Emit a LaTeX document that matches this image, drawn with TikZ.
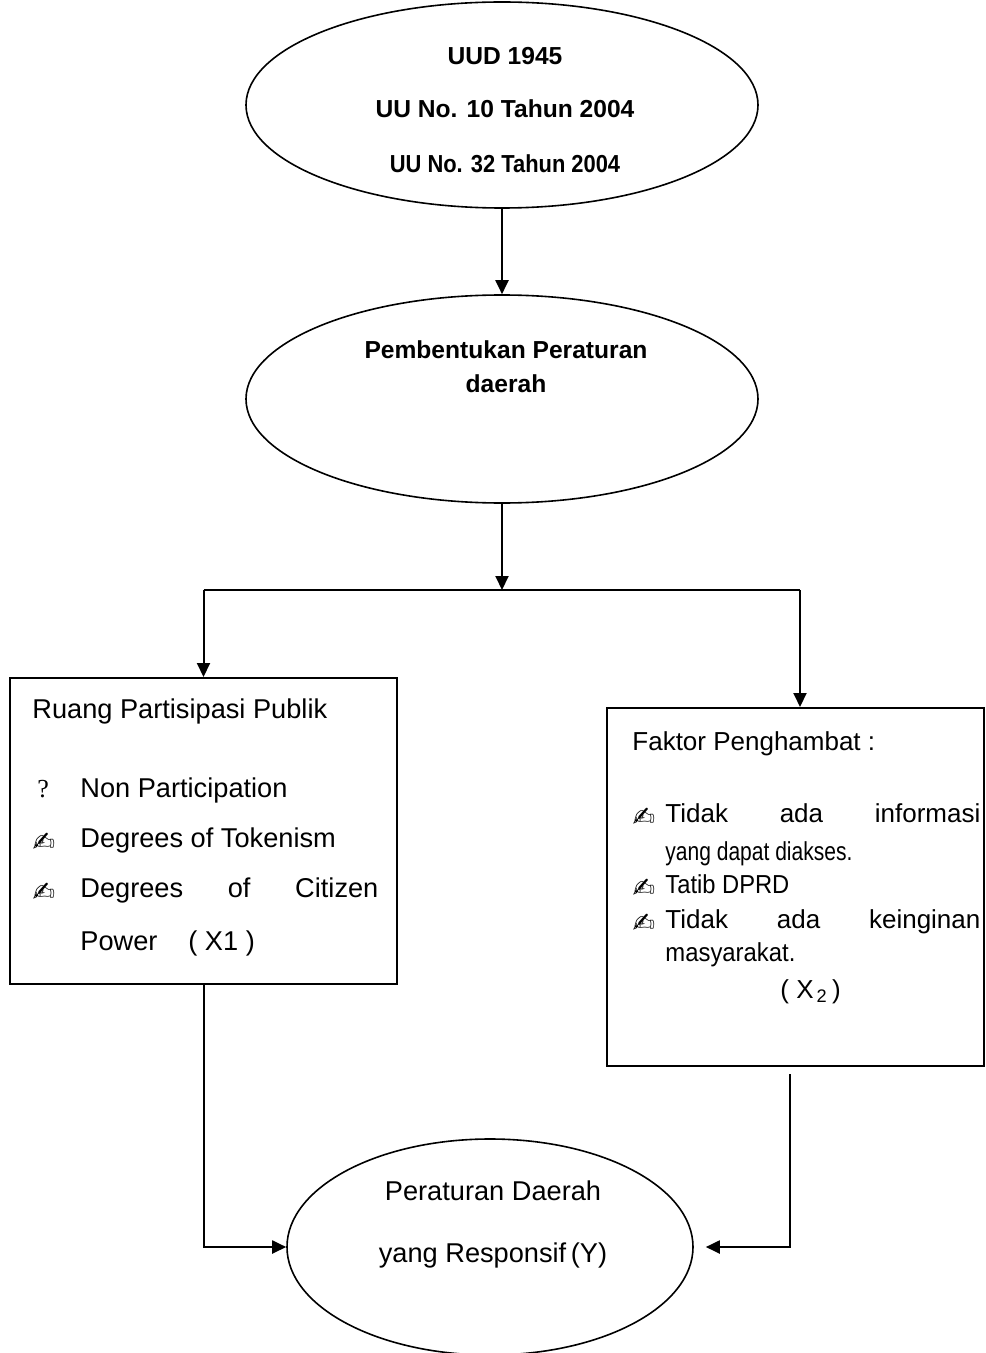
\documentclass[tikz,border=0pt]{standalone}
\usepackage{fontspec}
\setmainfont{Liberation Sans}
\newfontfamily\dvsans{DejaVu Sans}
\newfontfamily\lserif{Liberation Serif}
\usetikzlibrary{shapes.geometric,arrows.meta,calc}
\newcommand\regf{\fontsize{13.6}{16}\selectfont}
\newcommand\regfb{\fontsize{13}{15}\selectfont}
\newcommand\boldf{\fontsize{12.3}{14}\selectfont\bfseries}
\newcommand\squeezeto[2]{\resizebox{#1}{\height}{#2}}
\begin{document}
\begin{tikzpicture}[x=0.5pt,y=-0.5pt,
  ell/.style={draw, ellipse, line width=0.8pt, inner sep=0pt},
  boxst/.style={draw, rectangle, line width=1pt, inner sep=0pt},
  ln/.style={line width=1pt},
  arr/.style={line width=1pt, -{Triangle[length=7pt,width=6.5pt]}},
  btxt/.style={inner sep=0pt, anchor=base, font=\boldf},
  ctxt/.style={inner sep=0pt, anchor=base, font=\regf},
  ltxt/.style={inner sep=0pt, anchor=base west, font=\regf},
  rtxt/.style={inner sep=0pt, anchor=base west, font=\regfb},
  bul/.style={inner sep=0pt, anchor=center, font=\dvsans\fontsize{13.5}{13.5}\selectfont},
  qst/.style={inner sep=0pt, anchor=base west, font=\lserif\fontsize{13}{13}\selectfont}]
\useasboundingbox (0,0) rectangle (985,1353);
% ellipses
\node[ell, minimum width=256pt, minimum height=103pt] (uud) at (502,105) {};
\node[ell, minimum width=256pt, minimum height=104pt] (mid) at (502,399) {};
\node[ell, minimum width=203pt, minimum height=108pt] (res) at (490,1247) {};
% boxes
\node[boxst, minimum width=193.5pt, minimum height=153pt] (ruang) at (203.5,831) {};
\node[boxst, minimum width=188.5pt, minimum height=179pt] (faktor) at (795.5,887) {};
% ellipse texts
\node[btxt] (t1) at (505,65) {UUD 1945};
\node[btxt] (t2) at (505,118) {UU No. 10 Tahun 2004};
\node[btxt] (t3) at (505,173) {\scalebox{0.89}[1]{UU No. 32 Tahun 2004}};
\node[btxt] (p1) at (506,358) {Pembentukan Peraturan};
\node[btxt] (p2) at (506,393) {daerah};
\node[ctxt] (r1) at (493,1200) {Peraturan Daerah};
\node[ctxt] (r2) at (493,1262) {yang Responsif\,(Y)};
% left box texts
\node[ltxt] (l0) at (32,718) {Ruang Partisipasi Publik};
\node[qst] (q1) at (37,797) {?};
\node[ltxt] (l1) at (80,797) {Non Participation};
\node[bul] (b1) at (44,842) {✍};
\node[ltxt] (l2) at (80,847) {Degrees of Tokenism};
\node[bul] (b2) at (44,892) {✍};
\node[ltxt] (l3) at (80,897) {\hbox to 149pt{Degrees\hfill of\hfill Citizen}};
\node[ltxt] (l4) at (80,950) {Power};
\node[ltxt] (l5) at (188,950) {( X1 )};
% right box texts
\node[rtxt] (f0) at (632,750) {Faktor Penghambat :};
\node[bul] (c1) at (644,817) {✍};
\node[rtxt] (f1) at (665,822) {\hbox to 157.5pt{Tidak\hfill ada\hfill informasi}};
\node[rtxt] (f2) at (665,860) {\squeezeto{93.5pt}{yang dapat diakses.}};
\node[bul] (c2) at (644,888) {✍};
\node[rtxt] (f3) at (665,893) {\squeezeto{62pt}{Tatib DPRD}};
\node[bul] (c3) at (644,923) {✍};
\node[rtxt] (f4) at (665,928) {\hbox to 157.5pt{Tidak\hfill ada\hfill keinginan}};
\node[rtxt] (f5) at (665,961) {\squeezeto{65pt}{masyarakat.}};
\node[rtxt] (f6) at (780,998) {( X\textsubscript{\,2}\,)};
% connectors
\coordinate (split) at (502,590);
\coordinate (jl) at (203.5,590);
\coordinate (jr) at (800,590);
\coordinate (r0) at (790,1074);
\draw[arr] (uud.south) -- (mid.north);
\draw[arr] (mid.south) -- (split);
\draw[ln] (jl) -- (jr);
\draw[arr] (jl) -- (ruang.north);
\draw[arr] (jr) -- (jr |- faktor.north);
\draw[arr] (ruang.south) |- (res.west);
\draw[arr, shorten >=6pt] (r0) |- (res.east);
\end{tikzpicture}
\end{document}
